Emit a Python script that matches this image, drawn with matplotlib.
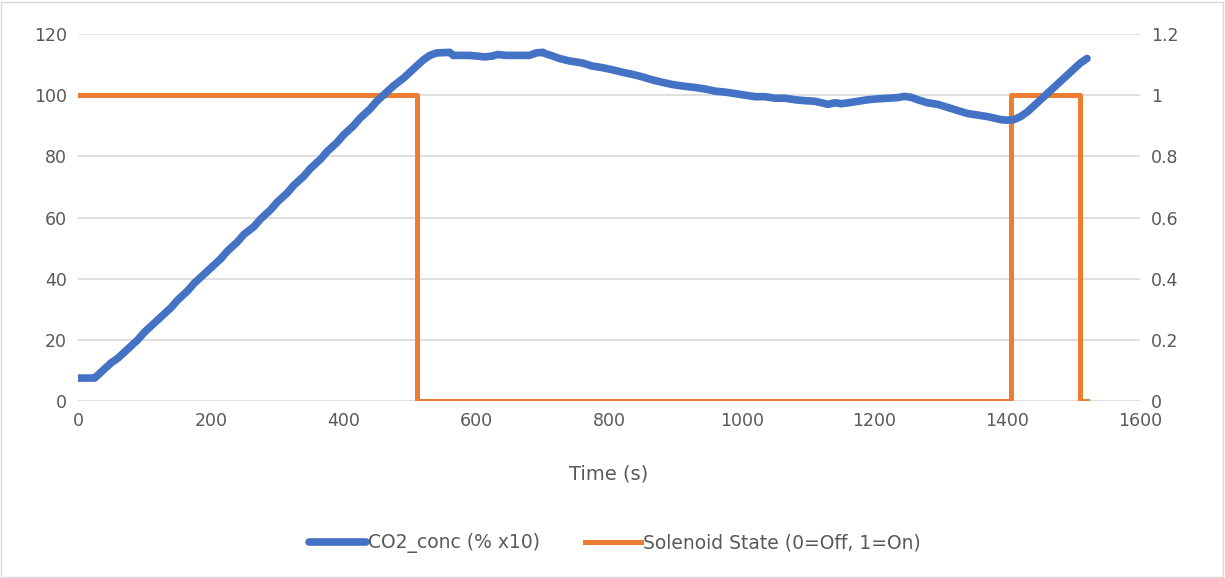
import matplotlib.pyplot as plt
from matplotlib.patches import Rectangle

# CO2 concentration (% x10), written row by row so times and values line up
co2_time = [0, 10, 20, 25, 30, 40, 50, 60, 75, 90,
            100, 115, 125, 140, 150, 165, 175, 190, 200, 215,
            225, 240, 250, 265, 275, 290, 300, 315, 325, 340,
            350, 365, 375, 390, 400, 415, 425, 440, 450, 460,
            475, 490, 500, 510, 520, 530, 540, 560, 565, 590,
            605, 612, 625, 632, 645, 660, 670, 680, 690, 700,
            705, 715, 725, 740, 760, 775, 790, 805, 820, 835,
            850, 865, 880, 895, 910, 930, 945, 960, 975, 990,
            1005, 1020, 1035, 1050, 1065, 1080, 1095, 1110, 1120, 1130,
            1140, 1150, 1160, 1175, 1190, 1205, 1220, 1235, 1245, 1255,
            1265, 1280, 1295, 1310, 1325, 1340, 1355, 1370, 1380, 1390,
            1400, 1410, 1420, 1430, 1440, 1450, 1460, 1470, 1480, 1490,
            1500, 1510, 1520]
co2_conc = [7.5, 7.5, 7.5, 7.5, 8.5, 10.5, 12.5, 14, 17, 20,
            22.5, 25.5, 27.5, 30.5, 33, 36, 38.5, 41.5, 43.5, 46.5,
            49, 52, 54.5, 57, 59.5, 62.5, 65, 68, 70.5, 73.5,
            76, 79, 81.5, 84.5, 87, 90, 92.5, 95.5, 98, 100,
            103, 105.5, 107.5, 109.5, 111.5, 113, 113.8, 114, 113, 113,
            112.7, 112.5, 112.8, 113.3, 113, 113, 113, 113, 113.8, 114,
            113.5, 112.8, 112, 111.2, 110.5, 109.5, 109, 108.3, 107.5, 106.8,
            106, 105, 104.2, 103.5, 103, 102.5, 102, 101.3, 101, 100.5,
            100, 99.5, 99.5, 99, 99, 98.5, 98.2, 98, 97.5, 97,
            97.5, 97.2, 97.5, 98, 98.5, 98.8, 99, 99.2, 99.6, 99.3,
            98.5, 97.5, 97, 96, 95, 94, 93.5, 93, 92.5, 92,
            91.8, 92, 93, 94.5, 96.5, 98.5, 100.5, 102.5, 104.5, 106.5,
            108.5, 110.5, 112]

# Solenoid state (0=Off, 1=On)
sol_time = [0, 510, 510, 1405, 1405, 1510, 1510, 1520]
sol_state = [1, 1, 0, 0, 1, 1, 0, 0]

blue = '#4472C4'
orange = '#ED7D31'
grey_text = '#595959'

fig = plt.figure(figsize=(12.25, 5.78), dpi=100)
ax = fig.add_axes([0.0637, 0.3062, 0.867, 0.635])
ax2 = ax.twinx()

ax.plot(co2_time, co2_conc, color=blue, linewidth=5.5, solid_capstyle='round',
        label='CO2_conc (% x10)', zorder=3)
ax2.plot(sol_time, sol_state, color=orange, linewidth=3.6,
         label='Solenoid State (0=Off, 1=On)', zorder=3)

# blue on top, gridlines drawn on the lower (right-hand) axes so they sit under both lines
ax.set_zorder(ax2.get_zorder() + 1)
ax.patch.set_visible(False)

ax.set_xlim(0, 1600)
ax.set_ylim(0, 120)
ax2.set_ylim(0, 1.2)
ax.set_xticks(range(0, 1601, 200))
ax.set_yticks(range(0, 121, 20))
ax2.set_yticks([0, 0.2, 0.4, 0.6, 0.8, 1.0, 1.2])
ax2.set_yticklabels(['0', '0.2', '0.4', '0.6', '0.8', '1', '1.2'])

ax2.set_axisbelow(True)
ax2.grid(axis='y', color='#D9D9D9', linewidth=1.2)
for a in (ax, ax2):
    for side in ('top', 'left', 'right', 'bottom'):
        a.spines[side].set_visible(False)
    a.tick_params(length=0, labelsize=12.5, labelcolor=grey_text, pad=8)

ax.set_xlabel('Time (s)', fontsize=14, color=grey_text, labelpad=25)

h1, l1 = ax.get_legend_handles_labels()
h2, l2 = ax2.get_legend_handles_labels()
leg = fig.legend(h1 + h2, l1 + l2, loc='center', bbox_to_anchor=(0.502, 0.06),
                 ncol=2, frameon=False, fontsize=13.5, handlelength=3.0,
                 columnspacing=2.4, handletextpad=0.1)
for t in leg.get_texts():
    t.set_color(grey_text)

fig.patches.append(Rectangle((0.001, 0.002), 0.997, 0.995, transform=fig.transFigure,
                             fill=False, edgecolor='#D9D9D9', linewidth=1))

fig.savefig('out.png', dpi=100)
